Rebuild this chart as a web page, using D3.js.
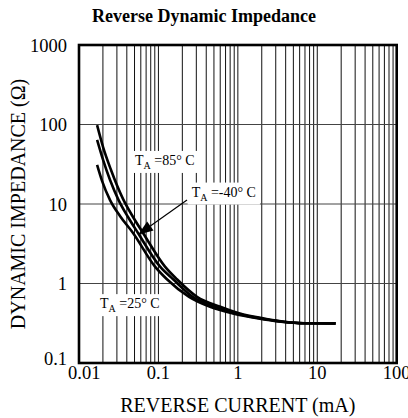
<!DOCTYPE html>
<html>
<head>
<meta charset="utf-8">
<script src="https://cdn.jsdelivr.net/npm/d3@7"></script>
<style>
  html, body { margin: 0; padding: 0; background: #fff; }
  svg { display: block; }
  text { font-family: "Liberation Serif", "Times New Roman", serif; fill: #000; }
</style>
</head>
<body>
<script>
// ---- data ----
const title = "Reverse Dynamic Impedance";
const xAxisTitle = "REVERSE CURRENT (mA)";
const yAxisTitle = "DYNAMIC IMPEDANCE (\u03A9)";
const xTickValues = [0.01, 0.1, 1, 10, 100];
const xTickLabels = ["0.01", "0.1", "1", "10", "100"];
const yTickValues = [0.1, 1, 10, 100, 1000];
const yTickLabels = ["0.1", "1", "10", "100", "1000"];

// reverse current (mA) and impedance (ohm) for each curve
const currentTop =    [0.0169, 0.0201, 0.0253, 0.0358, 0.0479, 0.064, 0.121, 0.171, 0.306, 0.60, 1.06, 2.09, 3.9, 7.0, 17];
const impedanceTop =  [98,     52,     26.8,   11.6,   6.86,   4.32,  1.63,  1.13,  0.68,  0.51, 0.42, 0.365, 0.33, 0.316, 0.315];
const currentMid =    [0.0169, 0.0201, 0.0246, 0.0315, 0.0414, 0.0553, 0.105, 0.153, 0.27, 0.52, 0.98, 1.89, 3.7, 6.6, 17];
const impedanceMid =  [64,     35.8,   20.0,   11.2,   6.86,   4.32,   1.63,  1.13,  0.68, 0.51, 0.42, 0.365, 0.33, 0.316, 0.315];
const currentBot =    [0.0169, 0.0195, 0.0246, 0.0328, 0.0479, 0.0906, 0.128, 0.243, 0.447, 0.87, 1.75, 3.5, 6.6, 17];
const impedanceBot =  [31,     19.5,   11.2,   7.06,   4.32,   1.63,   1.13,  0.68,  0.51,  0.42, 0.365, 0.33, 0.316, 0.315];

const labelNames = ["85", "-40", "25"];
const labelCurrent = [0.0507, 0.262, 0.0184];
const labelImpedance = [31, 12.4, 0.49];
const arrowFrom = [0.229, 11.2];
const arrowTo = [0.0555, 4.1];

// ---- drawing ----
const W = 408, H = 418;
const svg = d3.select("body").append("svg").attr("width", W).attr("height", H);

const x = d3.scaleLog().domain([0.01, 100]).range([79, 396.7]);
const y = d3.scaleLog().domain([0.1, 1000]).range([363, 45]);

// vertical grid at every minor value
const vGrid = [];
[0.01, 0.1, 1, 10].forEach(d => { for (let k = 2; k <= 9; k++) vGrid.push(d * k); });
[0.1, 1, 10].forEach(v => vGrid.push(v));
svg.append("g").selectAll("line").data(vGrid).join("line")
  .attr("x1", d => x(d)).attr("x2", d => x(d))
  .attr("y1", y(1000)).attr("y2", y(0.1))
  .attr("stroke", "#111").attr("stroke-width", 1);

// horizontal grid at decades
svg.append("g").selectAll("line").data([1, 10, 100]).join("line")
  .attr("x1", x(0.01)).attr("x2", x(100))
  .attr("y1", d => y(d)).attr("y2", d => y(d))
  .attr("stroke", "#444").attr("stroke-width", 1);

// curves
const line = d3.line().x(d => x(d[0])).y(d => y(d[1])).curve(d3.curveMonotoneX);
const curves = [
  d3.zip(currentTop, impedanceTop),
  d3.zip(currentMid, impedanceMid),
  d3.zip(currentBot, impedanceBot)
];
svg.append("g").selectAll("path").data(curves).join("path")
  .attr("d", line).attr("fill", "none")
  .attr("stroke", "#000").attr("stroke-width", 2.6).attr("stroke-linejoin", "round");

// labels with white boxes
const lg = svg.append("g");
labelNames.forEach((name, i) => {
  const g = lg.append("g");
  const rect = g.append("rect").attr("fill", "#fff");
  const t = g.append("text")
    .attr("x", x(labelCurrent[i])).attr("y", y(labelImpedance[i]))
    .attr("font-size", 14);
  t.append("tspan").text("T");
  t.append("tspan").attr("font-size", 10).attr("dy", 4).text("A");
  t.append("tspan").attr("dy", -4).text(" =" + name + "\u00B0 C");
  const b = t.node().getBBox();
  rect.attr("x", b.x - 4).attr("y", b.y - 2).attr("width", b.width + 8).attr("height", b.height + 4);
});

// arrow
const ax1 = x(arrowFrom[0]), ay1 = y(arrowFrom[1]);
const ax2 = x(arrowTo[0]), ay2 = y(arrowTo[1]);
const ang = Math.atan2(ay2 - ay1, ax2 - ax1);
const headLen = 15, headW = 5.5;
const bx = ax2 - headLen * Math.cos(ang), by = ay2 - headLen * Math.sin(ang);
svg.append("line").attr("x1", ax1).attr("y1", ay1).attr("x2", bx).attr("y2", by)
  .attr("stroke", "#000").attr("stroke-width", 1.2);
svg.append("path")
  .attr("d", `M${ax2},${ay2}L${bx + headW * Math.sin(ang)},${by - headW * Math.cos(ang)}L${bx - headW * Math.sin(ang)},${by + headW * Math.cos(ang)}Z`)
  .attr("fill", "#000");

// frame
svg.append("rect")
  .attr("x", x(0.01)).attr("y", y(1000))
  .attr("width", x(100) - x(0.01)).attr("height", y(0.1) - y(1000))
  .attr("fill", "none").attr("stroke", "#000").attr("stroke-width", 2.6);

// tick labels
const yLabelRight = 67;
svg.append("g").selectAll("text").data(xTickValues).join("text")
  .attr("y", 379)
  .attr("text-anchor", "middle").attr("font-size", 18.5)
  .text((d, i) => xTickLabels[i])
  .attr("x", function (d) {
    const w = this.getComputedTextLength();
    return Math.max(x(d), yLabelRight + 1 + w / 2);
  });
svg.append("g").selectAll("text").data(yTickValues).join("text")
  .attr("x", yLabelRight).attr("y", d => Math.min(y(d) + 6.5, y(0.1) + 2))
  .attr("text-anchor", "end").attr("font-size", 18.5)
  .text((d, i) => yTickLabels[i]);

// titles
svg.append("text").attr("x", 204).attr("y", 22)
  .attr("text-anchor", "middle").attr("font-size", 18).attr("font-weight", "bold")
  .text(title);
svg.append("text").attr("x", (x(0.01) + x(100)) / 2).attr("y", 411.5)
  .attr("text-anchor", "middle").attr("font-size", 20)
  .text(xAxisTitle);
svg.append("text")
  .attr("transform", `translate(25,${(y(0.1) + y(1000)) / 2}) rotate(-90)`)
  .attr("text-anchor", "middle").attr("font-size", 20)
  .text(yAxisTitle);
</script>
</body>
</html>
